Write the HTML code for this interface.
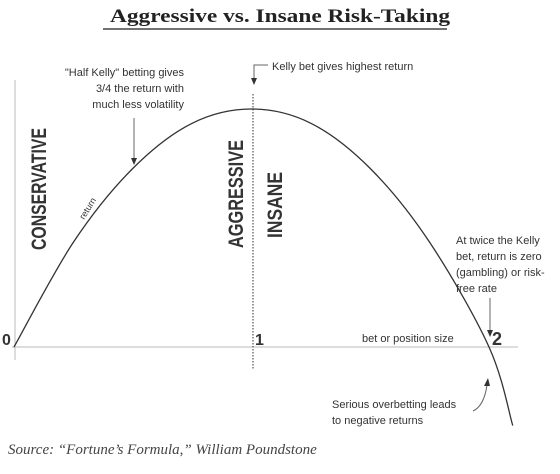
<!DOCTYPE html>
<html><head><meta charset="utf-8"><style>
body{margin:0;background:#fff}
svg{display:block}
text{font-family:"Liberation Sans",sans-serif;fill:#333}
</style></head><body>
<svg width="560" height="474" viewBox="0 0 560 474">
<text x="280" y="22" text-anchor="middle" font-weight="bold" font-size="19" textLength="340" lengthAdjust="spacingAndGlyphs" style="font-family:'Liberation Serif',serif;fill:#222">Aggressive vs. Insane Risk-Taking</text>
<line x1="103" y1="29" x2="447" y2="29" stroke="#444" stroke-width="1.5"/>
<line x1="15" y1="80" x2="15" y2="360" stroke="#bbb" stroke-width="1"/>
<line x1="12" y1="347" x2="518" y2="347" stroke="#bbb" stroke-width="1"/>
<line x1="253" y1="94" x2="253" y2="370" stroke="#555" stroke-width="1.2" stroke-dasharray="1.5,1.5"/>
<g id="curve"></g>
<text x="2" y="345" font-size="16" font-weight="bold">0</text>
<text x="255" y="345" font-size="16" font-weight="bold">1</text>
<text x="492" y="345" font-size="18" font-weight="bold">2</text>
<text x="362" y="342" font-size="11">bet or position size</text>
<text transform="translate(46,189) rotate(-90)" text-anchor="middle" font-size="21" textLength="122" lengthAdjust="spacingAndGlyphs" font-weight="bold">CONSERVATIVE</text>
<text transform="translate(243,194) rotate(-90)" text-anchor="middle" font-size="21" textLength="108" lengthAdjust="spacingAndGlyphs" font-weight="bold">AGGRESSIVE</text>
<text transform="translate(282,205) rotate(-90)" text-anchor="middle" font-size="21" textLength="66" lengthAdjust="spacingAndGlyphs" font-weight="bold">INSANE</text>
<text transform="translate(84,220) rotate(-58)" font-size="9">return</text>
<g font-size="11" text-anchor="end">
<text x="184" y="76">"Half Kelly" betting gives</text>
<text x="184" y="92">3/4 the return with</text>
<text x="184" y="108">much less volatility</text></g>
<line x1="134" y1="118" x2="134" y2="158" stroke="#666"/>
<polygon points="131,158 137,158 134,165" fill="#333"/>
<text x="272" y="70" font-size="11">Kelly bet gives highest return</text>
<polyline points="268,65 254,65 254,78" fill="none" stroke="#666"/>
<polygon points="251,78 257,78 254,85" fill="#333"/>
<g font-size="11">
<text x="456" y="244">At twice the Kelly</text>
<text x="456" y="260">bet, return is zero</text>
<text x="456" y="276">(gambling) or risk-</text>
<text x="456" y="292">free rate</text></g>
<line x1="490" y1="298" x2="490" y2="330" stroke="#666"/>
<polygon points="487,330 493,330 490,337" fill="#333"/>
<g font-size="11">
<text x="332" y="408">Serious overbetting leads</text>
<text x="332" y="424">to negative returns</text></g>
<path d="M473,411 Q484,406 487,385" fill="none" stroke="#666"/>
<polygon points="484,386 490,386 488,378" fill="#333"/>
<text x="8" y="454" font-size="15" font-style="italic" style="font-family:'Liberation Serif',serif;fill:#444">Source: “Fortune’s Formula,” William Poundstone</text>
</svg>
<script>
const betSizes=[0,0.25,0.5,0.75,1,1.25,1.5,1.75,2,2.1];
const returns=[0,0.44,0.75,0.94,1,0.94,0.75,0.44,0,-0.33];
const xs=f=>14+f*237.5, ys=r=>347-r*238;
const pts=betSizes.map((f,i)=>[xs(f),ys(returns[i])]);
let d=`M${pts[0][0]},${pts[0][1]}`;
for(let i=0;i<pts.length-1;i++){
 const p0=pts[Math.max(0,i-1)],p1=pts[i],p2=pts[i+1],p3=pts[Math.min(pts.length-1,i+2)];
 d+=` C${p1[0]+(p2[0]-p0[0])/6},${p1[1]+(p2[1]-p0[1])/6} ${p2[0]-(p3[0]-p1[0])/6},${p2[1]-(p3[1]-p1[1])/6} ${p2[0]},${p2[1]}`;
}
const path=document.createElementNS('http://www.w3.org/2000/svg','path');
path.setAttribute('d',d);path.setAttribute('fill','none');path.setAttribute('stroke','#333');path.setAttribute('stroke-width','1.3');


document.getElementById('curve').appendChild(path);
</script>
</body></html>
